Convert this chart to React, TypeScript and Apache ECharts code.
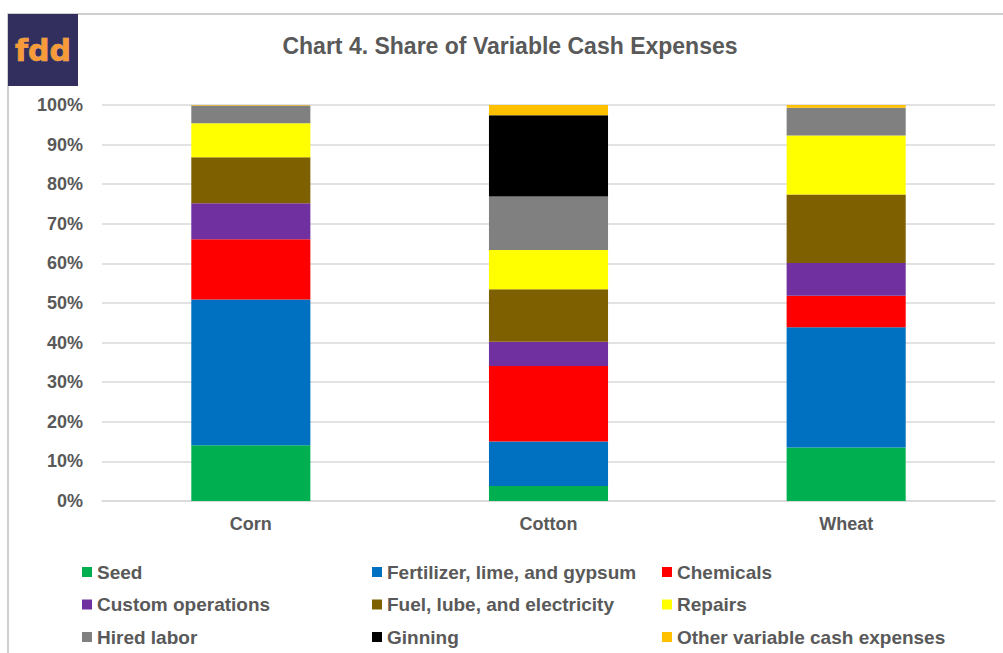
import React, { useEffect, useRef } from "react";
import * as echarts from "echarts";

const categories = ["Corn", "Cotton", "Wheat"];
const seriesNames = [
  "Seed",
  "Fertilizer, lime, and gypsum",
  "Chemicals",
  "Custom operations",
  "Fuel, lube, and electricity",
  "Repairs",
  "Hired labor",
  "Ginning",
  "Other variable cash expenses",
];
const seriesColors = [
  "#00B050",
  "#0070C0",
  "#FF0000",
  "#7030A0",
  "#7F6000",
  "#FFFF00",
  "#808080",
  "#000000",
  "#FFC000",
];
// share (%) per category: Corn, Cotton, Wheat
const seed = [14.1, 3.8, 13.5];
const fertilizer = [36.8, 11.2, 30.4];
const chemicals = [15.2, 19.1, 7.9];
const customOps = [9.1, 6.1, 8.3];
const fuel = [11.6, 13.3, 17.3];
const repairs = [8.6, 9.9, 14.9];
const hiredLabor = [4.5, 13.5, 7.0];
const ginning = [0, 20.5, 0];
const other = [0.1, 2.6, 0.7];
const seriesValues = [seed, fertilizer, chemicals, customOps, fuel, repairs, hiredLabor, ginning, other];

const legendColumns = [
  ["Seed", "Custom operations", "Hired labor"],
  ["Fertilizer, lime, and gypsum", "Fuel, lube, and electricity", "Ginning"],
  ["Chemicals", "Repairs", "Other variable cash expenses"],
];
const legendLefts = [82, 372, 662];

const textColor = "#595959";
const fontFamily = "'Liberation Sans', Arial, sans-serif";

export default function App() {
  const ref = useRef<HTMLDivElement>(null);
  useEffect(() => {
    document.body.style.margin = "0";
    const chart = echarts.init(ref.current!, null, { renderer: "svg" });
    chart.setOption({
      animation: false,
      textStyle: { fontFamily },
      grid: { left: 102, right: 8, top: 105, bottom: 152 },
      xAxis: {
        type: "category",
        data: categories,
        axisLine: { lineStyle: { color: "#d9d9d9", width: 1.5 } },
        axisTick: { show: false },
        axisLabel: {
          color: textColor,
          fontWeight: "bold",
          fontSize: 18,
          fontFamily,
          margin: 14,
        },
      },
      yAxis: {
        type: "value",
        min: 0,
        max: 100,
        interval: 10,
        axisLine: { show: false },
        axisTick: { show: false },
        splitLine: { lineStyle: { color: "#d9d9d9", width: 1.5 } },
        axisLabel: {
          formatter: "{value}%",
          color: textColor,
          fontWeight: "bold",
          fontSize: 18,
          fontFamily,
          margin: 19,
        },
      },
      legend: legendColumns.map((col, i) => ({
        data: col,
        orient: "vertical",
        left: legendLefts[i],
        top: 562,
        padding: 0,
        itemWidth: 10,
        itemHeight: 10,
        itemGap: 12.5,
        icon: "rect",
        selectedMode: false,
        textStyle: {
          color: textColor,
          fontWeight: "bold",
          fontSize: 19,
          fontFamily,
          lineHeight: 20,
        },
      })),
      graphic: [
        {
          type: "rect",
          shape: { x: 8, y: 14, width: 1010, height: 700 },
          style: { fill: "none", stroke: "#c0c0c0", lineWidth: 1.5 },
          silent: true,
        },
        {
          type: "rect",
          shape: { x: 8, y: 14, width: 70, height: 72 },
          style: { fill: "#322f5f" },
          silent: true,
        },
        {
          type: "text",
          x: 43,
          y: 50,
          style: {
            text: "fdd",
            fill: "#f79a38",
            stroke: "#f6c690",
            lineWidth: 0.6,
            font: "bold 30px 'DejaVu Sans', sans-serif",
            textAlign: "center",
            textVerticalAlign: "middle",
          },
          silent: true,
        },
        {
          type: "text",
          x: 510,
          y: 46,
          style: {
            text: "Chart 4. Share of Variable Cash Expenses",
            fill: textColor,
            font: `bold 23px ${fontFamily}`,
            textAlign: "center",
            textVerticalAlign: "middle",
          },
          silent: true,
        },
      ],
      series: seriesNames.map((name, i) => ({
        name,
        type: "bar",
        stack: "total",
        barWidth: "40%",
        data: seriesValues[i],
        itemStyle: { color: seriesColors[i] },
        emphasis: { disabled: true },
      })),
    });
    return () => chart.dispose();
  }, []);
  return <div ref={ref} style={{ width: 1003, height: 653 }} />;
}
